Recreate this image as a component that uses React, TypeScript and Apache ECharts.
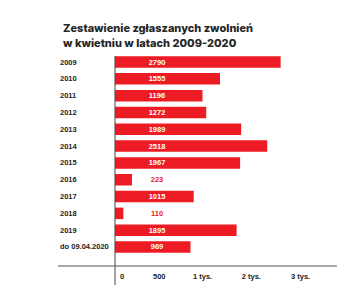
import React, { useEffect, useRef } from "react";
import * as echarts from "echarts";

// Categories (years) and reported layoff counts
const CATEGORIES = [
  "2009", "2010", "2011", "2012", "2013", "2014",
  "2015", "2016", "2017", "2018", "2019", "do 09.04.2020",
];
const VALUES = [2790, 1555, 1196, 1272, 1989, 2518, 1967, 223, 1015, 110, 1895, 969];

// Compressed horizontal scale: stop values and their share of the axis length
const SCALE_STOPS = [0, 500, 1000, 2000, 3000];
const SCALE_POS = [0, 0.216, 0.443, 0.72, 1];
const TICK_LABELS = ["0", "500", "1 tys.", "2 tys.", "3 tys."];

const TITLE = "Zestawienie zgłaszanych zwolnień\nw kwietniu w latach 2009-2020";

const RED = "#ed1c24";
const FONT = "'Liberation Sans', Arial, Helvetica, sans-serif";
const TITLE_FONT = "Inter, 'Liberation Sans', Arial, sans-serif";

// Map a count onto the compressed axis (piecewise linear between stops)
function toAxis(v: number): number {
  for (let i = 1; i < SCALE_STOPS.length; i++) {
    if (v <= SCALE_STOPS[i]) {
      const a = SCALE_STOPS[i - 1];
      const b = SCALE_STOPS[i];
      const t = (v - a) / (b - a);
      return SCALE_POS[i - 1] + t * (SCALE_POS[i] - SCALE_POS[i - 1]);
    }
  }
  return SCALE_POS[SCALE_POS.length - 1];
}

function tickLabel(pos: number): string {
  let best = 0;
  for (let i = 1; i < SCALE_POS.length; i++) {
    if (Math.abs(SCALE_POS[i] - pos) < Math.abs(SCALE_POS[best] - pos)) best = i;
  }
  return best === 0 ? "{z|" + TICK_LABELS[0] + "}" : TICK_LABELS[best];
}

export default function App() {
  const ref = useRef<HTMLDivElement>(null);

  useEffect(() => {
    if (!ref.current) return;
    const chart = echarts.init(ref.current, null, { renderer: "svg" });

    chart.setOption({
      animation: false,
      backgroundColor: "#ffffff",
      title: {
        text: TITLE,
        left: 58,
        top: 15,
        textStyle: {
          fontFamily: TITLE_FONT,
          fontSize: 11,
          fontWeight: 800,
          color: "#262626",
          lineHeight: 15,
        },
      },
      grid: { left: 115, right: 69, top: 53.6, bottom: 41.6 },
      xAxis: {
        type: "value",
        min: 0,
        max: 1,
        offset: 10.6,
        axisLine: { show: false },
        axisTick: { show: false },
        splitLine: { show: false },
        axisLabel: {
          customValues: SCALE_POS,
          formatter: (v: number) => tickLabel(v),
          align: "left",
          margin: 6,
          fontFamily: FONT,
          fontSize: 7.5,
          fontWeight: "bold",
          color: "#222",
          rich: {
            z: {
              fontFamily: FONT,
              fontSize: 7.5,
              fontWeight: "bold",
              color: "#222",
              padding: [0, 0, 0, 5],
            },
          },
        },
      },
      yAxis: {
        type: "category",
        inverse: true,
        data: CATEGORIES,
        axisLine: { show: false },
        axisTick: { show: false },
        axisLabel: {
          align: "left",
          margin: 55,
          fontFamily: FONT,
          fontSize: 7.5,
          fontWeight: "bold",
          color: "#222",
        },
      },
      series: [
        {
          type: "bar",
          barWidth: 11.5,
          data: VALUES.map((v) => {
            const x = toAxis(v);
            return {
              value: x,
              label: { color: x > 0.3 ? "#ffffff" : RED },
            };
          }),
          itemStyle: { color: RED },
          label: {
            show: true,
            position: [42, "50%"],
            align: "center",
            verticalAlign: "middle",
            fontFamily: FONT,
            fontSize: 7.5,
            fontWeight: "bold",
            formatter: (p: any) => String(VALUES[p.dataIndex]),
          },
        },
      ],
      graphic: [
        {
          type: "line",
          shape: { x1: 115, y1: 56, x2: 115, y2: 285 },
          style: { stroke: "#444", lineWidth: 1 },
          z: 10,
        },
        {
          type: "line",
          shape: { x1: 58, y1: 266, x2: 337, y2: 266 },
          style: { stroke: "#555", lineWidth: 1 },
          z: 10,
        },
      ],
    });

    return () => chart.dispose();
  }, []);

  return <div ref={ref} style={{ width: 360, height: 297, position: "absolute", left: 0, top: 0 }} />;
}
